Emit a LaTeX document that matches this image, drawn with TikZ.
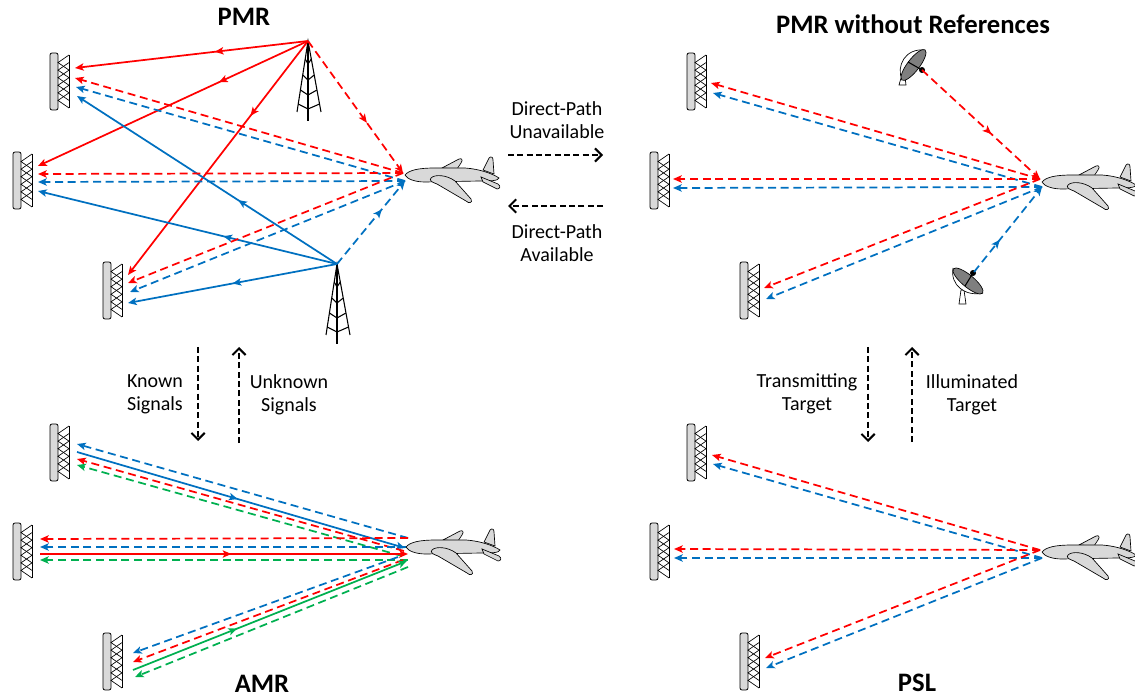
\documentclass[tikz,border=0pt]{standalone}
\usepackage{fontspec}
\setmainfont{Carlito}
\usetikzlibrary{arrows.meta,decorations.markings}

\definecolor{sigRed}{HTML}{FF0000}
\definecolor{sigBlue}{HTML}{0070C0}
\definecolor{sigGreen}{HTML}{00B050}
\definecolor{bodyGray}{HTML}{D9D9D9}
\definecolor{dishGray}{HTML}{7F7F7F}

% receiver array: bar with a column of overlapping triangles, #1/#2 = top-left of the bar
\newcommand{\rxarray}[2]{%
  \begin{scope}[shift={(#1,#2)}]
    \draw[fill=bodyGray, rounded corners=1.5pt, line width=0.6pt] (0,0) rectangle (8,57);
    \draw[line width=0.5pt] (19,2) -- (19,55);
    \foreach \k in {1,...,6}
      \draw[line width=0.5pt] (19,2+\k*7.57-7.57) -- (8,2+\k*7.57) -- (19,2+\k*7.57+7.57);
  \end{scope}}

% lattice mast, #1/#2 = tip
\newcommand{\mast}[2]{%
  \begin{scope}[shift={(#1,#2)}, line width=0.8pt]
    \draw (-11,71) -- (0,0) -- (13,71);
    \draw (0,0) -- (0,80);
    \foreach \h in {18,34,49,63}
      \draw (-\h*11/71,\h) -- (0,\h+5) -- (\h*13/71,\h);
  \end{scope}}

% aircraft, #1/#2 = nose
\newcommand{\plane}[2]{%
  \begin{scope}[shift={(#1,#2)}, line width=0.5pt, fill=bodyGray]
    \filldraw (37,-7) -- (54,-16) .. controls (57,-17) and (58,-15) .. (56,-12) -- (52,-6) -- cycle;
    \filldraw (78,-5) -- (84,-17) .. controls (86,-19) and (88,-18) .. (88,-15) -- (89,-1) -- cycle;
    \filldraw (0,0) .. controls (4,-5) and (14,-7) .. (30,-7) -- (60,-7)
      .. controls (75,-6) and (88,-1) .. (94,3) .. controls (93,6) and (85,6) .. (75,6)
      -- (20,7) .. controls (10,7) and (2,4) .. (0,0) -- cycle;
    \filldraw (26,3) .. controls (30,-1) and (42,0) .. (50,6) -- (66,24)
      .. controls (68,28) and (64,29) .. (61,26) -- (32,9) .. controls (26,7) and (24,5) .. (26,3) -- cycle;
    \filldraw (76,2) -- (93,9) .. controls (96,11) and (95,14) .. (92,14) -- (78,7) -- cycle;
  \end{scope}}

\begin{document}
\begin{tikzpicture}[x=0.75pt, y=-0.75pt,
  sig/.style={line width=1.3pt, -{Stealth[length=6.5pt,width=5.5pt,inset=1.5pt]}},
  echo/.style={sig, dash pattern=on 6pt off 3.5pt},
  midarrow/.style={postaction={decorate, decoration={markings,
    mark=at position #1 with {\arrow{Stealth[length=6.5pt,width=5.5pt,inset=1.5pt]}}}}},
  midarrow/.default=0.5,
  mode/.style={line width=1.5pt, dash pattern=on 4.5pt off 2.5pt, -{Straight Barb[length=5pt,width=10pt]}},
  title/.style={font=\fontsize{20}{23}\selectfont\bfseries},
  note/.style={font=\fontsize{15}{17}\selectfont, align=center}
]
\useasboundingbox (0,0) rectangle (1135,698);

% ---------- PMR ----------
\node[title] (tPmr) at (244,17) {PMR};
\mast{308}{41}
\mast{337}{264}
\coordinate (nTx) at (308,41);
\coordinate (sTx) at (337,264);
\coordinate (pmrHitR) at (403,173);
\coordinate (pmrHitB) at (405,181);
\coordinate (pmr1dR) at (75,68);   \coordinate (pmr2dR) at (38,166);  \coordinate (pmr3dR) at (128,275);
\coordinate (pmr1eR) at (75,78);   \coordinate (pmr2eR) at (38,174);  \coordinate (pmr3eR) at (128,283);
\coordinate (pmr1eB) at (76,87);   \coordinate (pmr2eB) at (38,182);  \coordinate (pmr3eB) at (130,292);
\coordinate (pmr1dB) at (77,96);   \coordinate (pmr2dB) at (38,191);  \coordinate (pmr3dB) at (128,303);
\draw[sig, sigRed, midarrow=0.4] (nTx) -- (pmr1dR);
\draw[sig, sigRed, midarrow=0.33] (nTx) -- (pmr2dR);
\draw[sig, sigRed, midarrow=0.32] (nTx) -- (pmr3dR);
\draw[echo, sigRed, midarrow=0.62] (nTx) -- (pmrHitR);
\draw[sig, sigBlue, midarrow=0.38] (sTx) -- (pmr1dB);
\draw[sig, sigBlue, midarrow=0.38] (sTx) -- (pmr2dB);
\draw[sig, sigBlue, midarrow=0.5] (sTx) -- (pmr3dB);
\draw[echo, sigBlue, midarrow=0.66] (sTx) -- (pmrHitB);
\foreach \k in {1,2,3} {
  \draw[echo, sigRed] (pmrHitR) -- (pmr\k eR);
  \draw[echo, sigBlue] (pmrHitB) -- (pmr\k eB);
}
\rxarray{50}{53} \rxarray{13}{152} \rxarray{103}{262}
\plane{405}{175}

% ---------- PMR without references ----------
\node[title] (tPwr) at (913,24) {PMR without References};
% dish looking down-right
\filldraw[fill=white, line width=0.5pt] (901,78) -- (899,85) -- (906,85) -- (905,77) -- cycle;
\filldraw[fill=white, line width=0.5pt] (902,80) .. controls (896,66) and (905,48) .. (925,50);
\filldraw[fill=dishGray, line width=0.5pt, rotate around={52.5:(913.5,65)}] (913.5,65) ellipse [x radius=19, y radius=6];
\draw[line width=0.8pt] (908,62) -- (922,70);
\fill (922,70) circle [radius=3];
% dish looking up-right
\filldraw[fill=white, line width=0.5pt] (961,290) -- (959,304) -- (966,304) -- (964,290) -- cycle;
\filldraw[fill=white, line width=0.5pt] (953,268) .. controls (950,285) and (965,297) .. (983,293);
\filldraw[fill=dishGray, line width=0.5pt, rotate around={-39.8:(968,281)}] (968,281) ellipse [x radius=19, y radius=6];
\draw[line width=0.8pt] (965,286) -- (973,273);
\fill (973,273) circle [radius=3];
\coordinate (dishN) at (922,70);
\coordinate (dishS) at (974,272);
\coordinate (pwrHitR) at (1040,179);
\coordinate (pwrHitB) at (1042,187);
\coordinate (pwr1eR) at (711,83);  \coordinate (pwr2eR) at (673,179); \coordinate (pwr3eR) at (764,288);
\coordinate (pwr1eB) at (713,93);  \coordinate (pwr2eB) at (673,188); \coordinate (pwr3eB) at (766,299);
\draw[echo, sigRed, midarrow=0.59] (dishN) -- (pwrHitR);
\draw[echo, sigBlue, midarrow=0.38] (dishS) -- (pwrHitB);
\foreach \k in {1,2,3} {
  \draw[echo, sigRed] (pwrHitR) -- (pwr\k eR);
  \draw[echo, sigBlue] (pwrHitB) -- (pwr\k eB);
}
\rxarray{687}{53} \rxarray{650}{152} \rxarray{740}{262}
\plane{1042}{182}

% ---------- AMR ----------
\node[title] (tAmr) at (262,684) {AMR};
\coordinate (amrA) at (408,538);
\coordinate (amrB) at (408,547);
\coordinate (amrC) at (405,548);
\coordinate (amrD) at (404,551);
\coordinate (amrE) at (408,554);
\coordinate (amrF) at (402,556);
\coordinate (amrG) at (398,557);
\coordinate (amrH) at (408,560);
\coordinate (amrI) at (403,560);
\coordinate (amrJ) at (407,561);
\coordinate (amrK) at (408,567);
\coordinate (amr1eB) at (77,444);  \coordinate (amr1dB) at (77,452);
\coordinate (amr1eR) at (77,459);  \coordinate (amr1eG) at (77,465);
\coordinate (amr2eR) at (40,539);  \coordinate (amr2eB) at (40,547);
\coordinate (amr2dR) at (40,554);  \coordinate (amr2eG) at (40,560);
\coordinate (amr3eB) at (133,653); \coordinate (amr3eR) at (133,662);
\coordinate (amr3dG) at (133,670); \coordinate (amr3eG) at (135,677);
\draw[echo, sigBlue] (amrA) -- (amr1eB);
\draw[sig, sigBlue, midarrow=0.49] (amr1dB) -- (amrC);
\draw[echo, sigRed] (amrD) -- (amr1eR);
\draw[echo, sigGreen] (amrF) -- (amr1eG);
\draw[echo, sigRed] (amrA) -- (amr2eR);
\draw[echo, sigBlue] (amrB) -- (amr2eB);
\draw[sig, sigRed, midarrow=0.52] (amr2dR) -- (amrE);
\draw[echo, sigGreen] (amrH) -- (amr2eG);
\draw[echo, sigBlue] (amrG) -- (amr3eB);
\draw[echo, sigRed] (amrI) -- (amr3eR);
\draw[sig, sigGreen, midarrow=0.38] (amr3dG) -- (amrJ);
\draw[echo, sigGreen] (amrK) -- (amr3eG);
\rxarray{50}{424} \rxarray{13}{523} \rxarray{103}{633}
\plane{406}{547}

% ---------- PSL ----------
\node[title] (tPsl) at (917,683) {PSL};
\coordinate (pslHitR) at (1040,550);
\coordinate (pslHitB) at (1042,558);
\coordinate (psl1eR) at (712,455); \coordinate (psl2eR) at (674,549); \coordinate (psl3eR) at (765,658);
\coordinate (psl1eB) at (713,464); \coordinate (psl2eB) at (674,558); \coordinate (psl3eB) at (766,668);
\foreach \k in {1,2,3} {
  \draw[echo, sigRed] (pslHitR) -- (psl\k eR);
  \draw[echo, sigBlue] (pslHitB) -- (psl\k eB);
}
\rxarray{687}{424} \rxarray{650}{523} \rxarray{740}{633}
\plane{1042}{552}

% ---------- transitions ----------
\node[note] (dpOff) at (557,120) {Direct-Path\\Unavailable};
\node[note] (dpOn) at (557,243) {Direct-Path\\Available};
\coordinate (toWoL) at (508,155); \coordinate (toWoR) at (603,155);
\coordinate (toPmL) at (508,206); \coordinate (toPmR) at (603,206);
\draw[mode] (toWoL) -- (toWoR);
\draw[mode] (toPmR) -- (toPmL);

\node[note] (known) at (155,394) {Known\\Signals};
\node[note] (unknown) at (289,395) {Unknown\\Signals};
\coordinate (kTop) at (198,347); \coordinate (kBot) at (198,441);
\coordinate (uTop) at (239,347); \coordinate (uBot) at (239,443);
\draw[mode] (kTop) -- (kBot);
\draw[mode] (uBot) -- (uTop);

\node[note] (txTgt) at (807,394) {Transmitting\\Target};
\node[note] (ilTgt) at (972,395) {Illuminated\\Target};
\coordinate (tTop) at (868,347); \coordinate (tBot) at (868,442);
\coordinate (iTop) at (912,347); \coordinate (iBot) at (912,442);
\draw[mode] (tTop) -- (tBot);
\draw[mode] (iBot) -- (iTop);
\end{tikzpicture}
\end{document}
